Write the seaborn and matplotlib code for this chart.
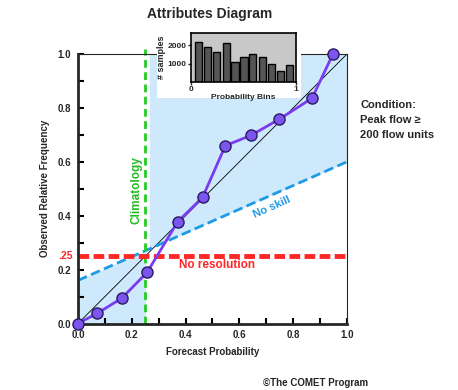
import numpy as np
import pandas as pd
import matplotlib
matplotlib.use("Agg")
import matplotlib.pyplot as plt
import matplotlib.patches as patches
import seaborn as sns

# reliability curve (forecast prob vs observed frequency)
fcst_prob = [0.0, 0.072, 0.163, 0.257, 0.371, 0.463, 0.548, 0.643, 0.748, 0.870, 0.948]
obs_freq = [0.0, 0.038, 0.094, 0.190, 0.378, 0.468, 0.660, 0.698, 0.758, 0.836, 1.0]

# sample counts per probability bin (inset)
bin_centers = [0.07, 0.155, 0.245, 0.335, 0.42, 0.505, 0.59, 0.68, 0.765, 0.855, 0.94]
bin_counts = [2200, 1910, 1660, 2150, 1110, 1380, 1550, 1370, 1000, 620, 950]

climatology = 0.25
noskill_y0 = 0.16
noskill_y1 = 0.60
skill_right_start = 0.265

sns.set_style("ticks")
plt.rcParams['font.family'] = ['Liberation Sans', 'DejaVu Sans']
plt.rcParams['font.weight'] = 'bold'

fig = plt.figure(figsize=(4.58, 3.90), dpi=100)
ax = fig.add_axes([0.1703, 0.1705, 0.5873, 0.6910])

# skill regions
xl = np.array([0, climatology])
ax.fill_between(xl, 0, noskill_y0 + (noskill_y1 - noskill_y0) * xl,
                color='#cde9fb', lw=0, zorder=0)
xr = np.array([skill_right_start, 1])
ax.fill_between(xr, noskill_y0 + (noskill_y1 - noskill_y0) * xr, 1,
                color='#cde9fb', lw=0, zorder=0)

# reference lines
ax.plot([0, 1], [0, 1], color='black', lw=0.6, zorder=1)
ax.plot([0, 1], [noskill_y0, noskill_y1], color='#1e9ae6', lw=2,
        dashes=(3.5, 1.6), zorder=1)
ax.plot([climatology, climatology], [0, 1.02], color='#22cc22', lw=2,
        dashes=(2.8, 1.6), zorder=1, clip_on=False)
ax.plot([0, 1], [climatology, climatology], color='#ff2626', lw=3.5,
        dashes=(2.2, 0.9), zorder=1)

df = pd.DataFrame({'fcst': fcst_prob, 'obs': obs_freq})
sns.lineplot(data=df, x='fcst', y='obs', sort=False, ax=ax, color='#7a3cf0',
             lw=2, marker='o', markersize=8, markerfacecolor='#7b55ee',
             markeredgecolor='#2a1a60', markeredgewidth=1, clip_on=False, zorder=3)

ax.set_xlim(0, 1)
ax.set_ylim(0, 1)
ax.set_xticks(np.arange(0, 1.01, 0.2))
ax.set_yticks(np.arange(0, 1.01, 0.2))
ax.set_xticks(np.arange(0.1, 1, 0.2), minor=True)
ax.set_yticks(np.arange(0.1, 1, 0.2), minor=True)
ax.set_xticklabels([f"{v:.1f}" for v in np.arange(0, 1.01, 0.2)])
ax.set_yticklabels([f"{v:.1f}" for v in np.arange(0, 1.01, 0.2)])
ax.tick_params(which='both', direction='in', length=4, width=1.5,
               labelsize=7, pad=5, color='black')
for s in ['left', 'bottom']:
    ax.spines[s].set_linewidth(2)
for s in ['top', 'right']:
    ax.spines[s].set_linewidth(0.8)
    ax.spines[s].set_visible(True)
ax.set_xlabel("Forecast Probability", fontsize=7, fontweight='bold', labelpad=5)
ax.set_ylabel("Observed Relative Frequency", fontsize=7, fontweight='bold', labelpad=5)

ax.text(-0.02, climatology, ".25", color='#ff2626', fontsize=7.5,
        fontweight='bold', ha='right', va='center', transform=ax.transData)
ax.text(0.218, 0.495, "Climatology", color='#22bb22', fontsize=8.5,
        fontweight='bold', rotation=90, ha='center', va='center')
ax.text(0.72, 0.433, "No skill", color='#1e9ae6', fontsize=8,
        fontweight='bold', rotation=24, ha='center', va='center')
ax.text(0.516, 0.217, "No resolution", color='#ff2626', fontsize=8.5,
        fontweight='bold', ha='center', va='center')

# white panel behind the inset
ax.add_patch(patches.Rectangle((0.343, 0.749), 0.314, 0.18, transform=fig.transFigure,
                               facecolor='white', edgecolor='none', zorder=5,
                               clip_on=False))

# inset histogram
ins = fig.add_axes([0.417, 0.790, 0.229, 0.126])
ins.set_facecolor('#c8c8c8')
sns.barplot(x=bin_centers, y=bin_counts, native_scale=True, width=0.8,
            color='#555555', edgecolor='black', linewidth=1, saturation=1, ax=ins)
ins.set_xlim(0, 1)
ins.set_ylim(0, 2700)
ins.set_xticks([0, 1])
ins.set_xticklabels(['0', '1'])
ins.set_yticks([1000, 2000])
ins.set_yticklabels(['1000', '2000'])
ins.tick_params(labelsize=6, length=2, width=1, pad=1)
for s in ins.spines.values():
    s.set_visible(True)
    s.set_linewidth(1.2)
    s.set_color('black')
ins.set_xlabel("Probability Bins", fontsize=6, fontweight='bold', labelpad=1)
ins.set_ylabel("# samples", fontsize=6.5, fontweight='bold', labelpad=1)

fig.text(0.4585, 0.964, "Attributes Diagram", fontsize=10, fontweight='bold',
         ha='center', va='center')
fig.text(0.787, 0.692, "Condition:\nPeak flow \u2265\n200 flow units", fontsize=8,
         fontweight='bold', ha='left', va='center', linespacing=1.6)
fig.text(0.803, 0.018, "\u00a9The COMET Program", fontsize=7, fontweight='bold',
         ha='right', va='center')

fig.savefig("out.png", dpi=100)
